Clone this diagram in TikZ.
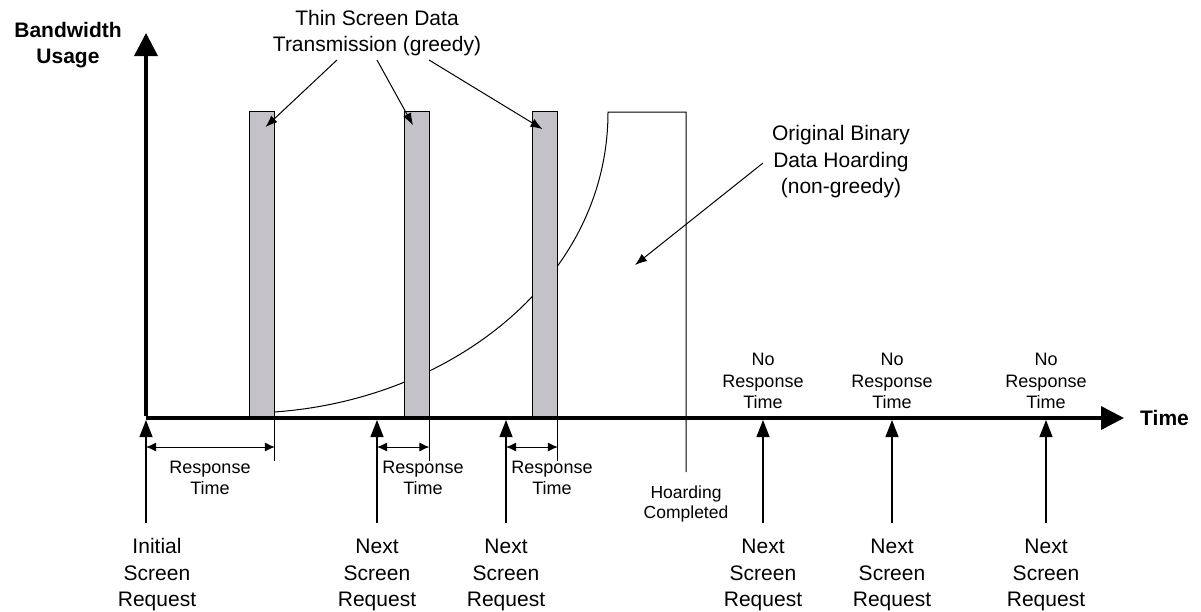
\documentclass[tikz,border=0pt]{standalone}
\usepackage{fontspec}
\setmainfont{Liberation Sans}
\usepackage{xcolor}
\usetikzlibrary{arrows.meta}
\definecolor{bargray}{RGB}{196,194,200}

\begin{document}
\begin{tikzpicture}[x=1pt, y=-1pt,
    axis/.style={line width=3.5pt, -{Triangle[length=23pt, width=23pt]}},
    bar/.style={draw, fill=bargray, line width=0.9pt, inner sep=0pt,
      minimum width=25pt, minimum height=306pt, anchor=south west},
    pointer/.style={line width=1pt, -{Latex[length=12pt, width=9pt]}},
    span/.style={line width=1pt, {Latex[length=10pt, width=9pt]}-{Latex[length=10pt, width=9pt]}},
    req/.style={line width=1.2pt, -{Triangle[length=17pt, width=13pt]}},
    big/.style={font=\fontsize{21}{26.5}\selectfont, align=center, inner sep=0pt},
    small/.style={font=\fontsize{18}{21.5}\selectfont, align=center, inner sep=0pt}]
  \path[use as bounding box] (0,0) rectangle (1201,611);

  % Axes
  \coordinate (o) at (146,418);
  \draw[axis] ([yshift=1.75pt]o) -- (146,33);
  \draw[axis] (o) -- (1124,418);
  \node[big, font=\fontsize{21}{26.5}\selectfont\bfseries] (ylab) at (68,45) {Bandwidth\\Usage};
  \node[big, font=\fontsize{21}{26.5}\selectfont\bfseries, anchor=west] (xlab) at (1140,418) {Time};

  % Hoarding curve, drawn under the bars
  \draw[line width=1pt] (274,412) .. controls (450,400) and (608,280) .. (608,112)
    -- (686,112) -- (686,472);

  % Thin screen bars
  \foreach \x [count=\i] in {249, 403.5, 532}
    \node[bar] (bar\i) at (\x,418) {};
  \draw[line width=3.5pt] (o) -- (1100,418);

  % Response time spans
  \foreach \x [count=\i] in {146, 377, 506}
    \coordinate (q\i) at (\x,418);
  \foreach \i in {1,2,3} {
    \draw[line width=1pt] (bar\i.south east) -- ++(0,43);
    \draw[span] ([yshift=-29pt]q\i) -- ([yshift=-29pt]bar\i.south east);
  }
  \node[small] (rt1) at (210,478) {Response\\Time};
  \node[small] (rt2) at (423,478) {Response\\Time};
  \node[small] (rt3) at (552,478) {Response\\Time};

  % Screen requests
  \foreach \x [count=\i] in {763, 892, 1046}
    \coordinate (q\the\numexpr\i+3\relax) at (\x,418);
  \foreach \i in {1,...,6}
    \draw[req] ([yshift=-105pt]q\i) -- ([yshift=-2pt]q\i);
  \node[big] (req1) at (157,575) {Initial\\Screen\\Request};
  \foreach \i in {2,...,6}
    \node[big] (req\i) at ([yshift=-157pt]q\i) {Next\\Screen\\Request};
  \foreach \i in {4,5,6}
    \node[small] (none\i) at ([yshift=37pt]q\i) {No\\Response\\Time};

  % Hoarding end
  \node[small, font=\fontsize{17.5}{20.5}\selectfont] (done) at (686,504) {Hoarding\\Completed};

  % Callouts
  \node[big] (thin) at (377,33) {Thin Screen Data\\Transmission (greedy)};
  \draw[pointer] (337,60) -- ([xshift=3.5pt, yshift=-16pt]bar1.north);
  \draw[pointer] (377,60) -- ([xshift=-3.5pt, yshift=-14pt]bar2.north);
  \draw[pointer] (429,60) -- ([xshift=-2.5pt, yshift=-18pt]bar3.north);
  \node[big] (hoard) at (841,162) {Original Binary\\Data Hoarding\\(non-greedy)};
  \coordinate (inside) at (635,265);
  \draw[pointer] (763,163) -- (inside);
\end{tikzpicture}
\end{document}
